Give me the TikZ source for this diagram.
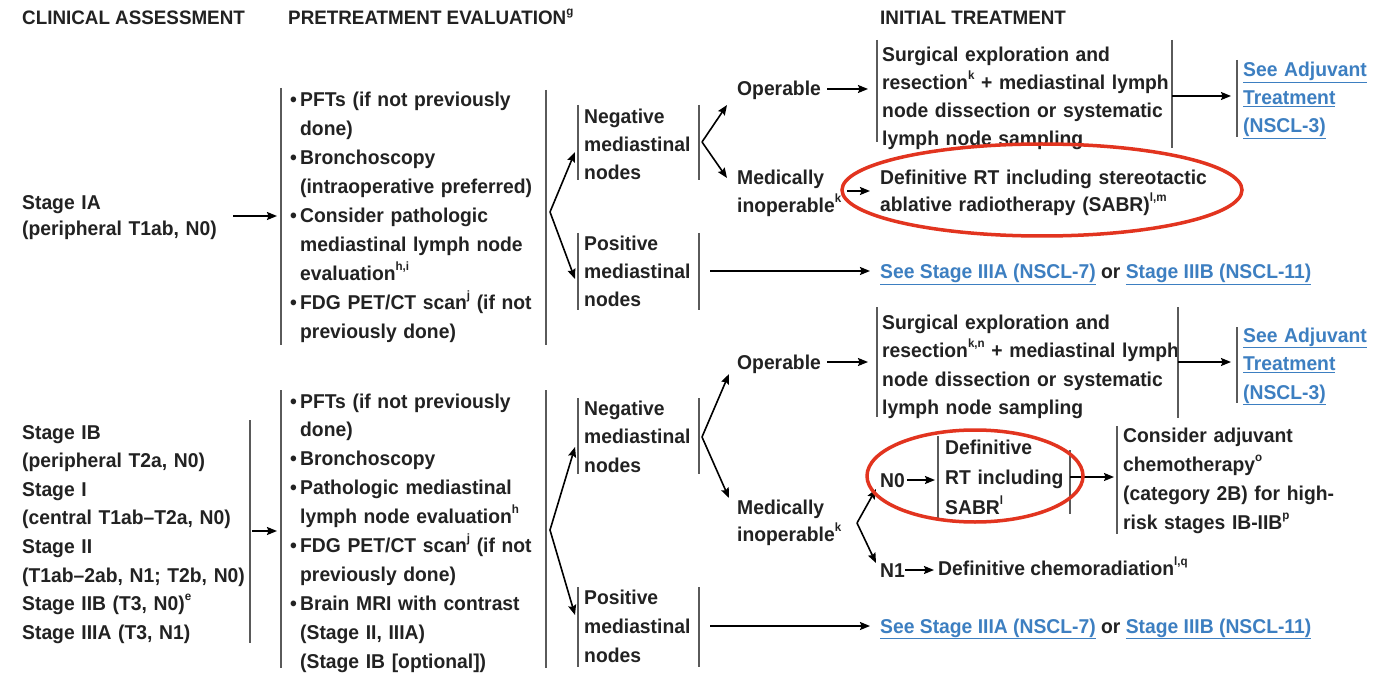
\documentclass[tikz,border=0pt]{standalone}
\usepackage{fontspec}
\setmainfont{Liberation Sans}[FakeStretch=0.965]
\usetikzlibrary{arrows.meta}
\definecolor{txt}{HTML}{222222}
\definecolor{lnk}{HTML}{3D7FC1}
\definecolor{barc}{HTML}{5A5A5A}
\definecolor{circ}{HTML}{E2341F}
\newcommand{\spx}[1]{\raisebox{0.5em}{\fontsize{12}{12}\selectfont #1}}
\newcommand{\lk}[1]{{\color{lnk}\underline{#1}}}
\newcommand{\bl}{\makebox[10pt][l]{•}}
\newcommand{\ind}{\hspace*{10pt}}
\begin{document}
\begin{tikzpicture}[x=1pt,y=-1pt,
  every node/.style={font=\fontsize{20}{28}\selectfont\bfseries, text=txt, inner sep=0pt, anchor=base west},
  blk/.style={text width=#1, align=left},
  hdr/.style={font=\fontsize{19.5}{24}\selectfont\bfseries},
  barl/.style={draw=barc, line width=1.8pt},
  arr/.style={draw=black, line width=1.6pt, -{Stealth[length=10pt,width=8pt,inset=1.5pt]}},
  ring/.style={draw=circ, line width=3.5pt}]
\useasboundingbox (0,0) rectangle (1383,676);
\fill[white] (0,0) rectangle (1383,676);

% headers
\node[hdr] (h1) at (22,25) {CLINICAL ASSESSMENT};
\node[hdr] (h2) at (288,25) {PRETREATMENT EVALUATION\spx{g}};
\node[hdr] (h3) at (880,25) {INITIAL TREATMENT};

% ---------------- top section ----------------
\node[blk=220pt, font=\fontsize{20}{26}\selectfont\bfseries] (s1) at (22,210) {Stage IA\\(peripheral T1ab, N0)};
\coordinate (a1s) at (233,216); \coordinate (a1e) at (277,216);
\draw[arr] (a1s) -- (a1e);

\node[blk=260pt, font=\fontsize{20}{28.9}\selectfont\bfseries] (p1) at (290,107)
 {\bl PFTs (if not previously\\\ind done)\\\bl Bronchoscopy\\\ind(intraoperative preferred)\\\bl Consider pathologic\\\ind mediastinal lymph node\\\ind evaluation\spx{h,i}\\\bl FDG PET/CT scan\spx{j} (if not\\\ind previously done)};
\draw[barl] (281,88) -- (281,345);
\draw[barl] (546,90) -- (546,345);

\coordinate (f1) at (550,212);
\coordinate (n1t) at (575,152); \coordinate (q1t) at (575,279);
\draw[arr] (f1) -- (n1t);
\draw[arr] (f1) -- (q1t);

\node[blk=120pt] (n1) at (584,124) {Negative\\mediastinal\\nodes};
\draw[barl] (578,105) -- (578,180);
\draw[barl] (699,105) -- (699,180);
\node[blk=120pt] (q1) at (584,251) {Positive\\mediastinal\\nodes};
\draw[barl] (578,233) -- (578,310);
\draw[barl] (699,233) -- (699,310);

\coordinate (f2) at (702,142);
\coordinate (o1t) at (727,105); \coordinate (m1t) at (727,178);
\draw[arr] (f2) -- (o1t);
\draw[arr] (f2) -- (m1t);

\node (o1) at (737,96) {Operable};
\coordinate (o1s) at (827,89); \coordinate (o1e) at (868,89);
\draw[arr] (o1s) -- (o1e);
\node[blk=120pt, font=\fontsize{20}{28}\selectfont\bfseries] (m1) at (737,185) {Medically\\inoperable\spx{k}};
\coordinate (m1s) at (847,191); \coordinate (m1e) at (870,191);
\draw[arr] (m1s) -- (m1e);

\node[blk=340pt] (r1) at (882,62) {Surgical exploration and\\resection\spx{k} + mediastinal lymph\\node dissection or systematic\\lymph node sampling};
\draw[barl] (877,40) -- (877,142);
\draw[barl] (1172,40) -- (1172,148);
\coordinate (r1s) at (1172,96); \coordinate (r1e) at (1231,96);
\draw[arr] (r1s) -- (r1e);
\node[blk=140pt, text=lnk] (j1) at (1243,77) {\lk{See Adjuvant}\\\lk{Treatment}\\\lk{(NSCL-3)}};
\draw[barl] (1237,60) -- (1237,137);

\node[blk=380pt, font=\fontsize{20}{27}\selectfont\bfseries] (d1) at (880,185) {Definitive RT including stereotactic\\ablative radiotherapy (SABR)\spx{l,m}};
\draw[ring] (1042,190) ellipse [x radius=200, y radius=46];

\coordinate (q1s) at (710,271); \coordinate (q1e) at (870,271);
\draw[arr] (q1s) -- (q1e);
\node (k1) at (880,279) {\lk{See Stage IIIA (NSCL-7)} or \lk{Stage IIIB (NSCL-11)}};

% ---------------- bottom section ----------------
\node[blk=240pt, font=\fontsize{20}{28.6}\selectfont\bfseries] (s2) at (22,439)
 {Stage IB\\(peripheral T2a, N0)\\Stage I\\(central T1ab--T2a, N0)\\Stage II\\(T1ab--2ab, N1; T2b, N0)\\Stage IIB (T3, N0)\spx{e}\\Stage IIIA (T3, N1)};
\draw[barl] (250,420) -- (250,643);
\coordinate (a2s) at (252,531); \coordinate (a2e) at (277,531);
\draw[arr] (a2s) -- (a2e);

\node[blk=260pt, font=\fontsize{20}{28.9}\selectfont\bfseries] (p2) at (290,408)
 {\bl PFTs (if not previously\\\ind done)\\\bl Bronchoscopy\\\bl Pathologic mediastinal\\\ind lymph node evaluation\spx{h}\\\bl FDG PET/CT scan\spx{j} (if not\\\ind previously done)\\\bl Brain MRI with contrast\\\ind(Stage II, IIIA)\\\ind(Stage IB [optional])};
\draw[barl] (281,390) -- (281,668);
\draw[barl] (546,390) -- (546,668);

\coordinate (f3) at (550,530);
\coordinate (n2t) at (575,447); \coordinate (q2t) at (575,615);
\draw[arr] (f3) -- (n2t);
\draw[arr] (f3) -- (q2t);

\node[blk=120pt, font=\fontsize{20}{28.5}\selectfont\bfseries] (n2) at (584,415) {Negative\\mediastinal\\nodes};
\draw[barl] (578,398) -- (578,474);
\draw[barl] (699,398) -- (699,474);
\node[blk=120pt, font=\fontsize{20}{29}\selectfont\bfseries] (q2) at (584,604) {Positive\\mediastinal\\nodes};
\draw[barl] (578,587) -- (578,667);
\draw[barl] (699,587) -- (699,667);

\coordinate (f4) at (702,437);
\coordinate (o2t) at (729,374); \coordinate (m2t) at (729,498);
\draw[arr] (f4) -- (o2t);
\draw[arr] (f4) -- (m2t);

\node (o2) at (737,369) {Operable};
\coordinate (o2s) at (827,362); \coordinate (o2e) at (868,362);
\draw[arr] (o2s) -- (o2e);

\node[blk=340pt, font=\fontsize{20}{28.5}\selectfont\bfseries] (r2) at (882,329) {Surgical exploration and\\resection\spx{k,n} + mediastinal lymph\\node dissection or systematic\\lymph node sampling};
\draw[barl] (877,307) -- (877,417);
\draw[barl] (1178,307) -- (1178,418);
\coordinate (r2s) at (1178,362); \coordinate (r2e) at (1231,362);
\draw[arr] (r2s) -- (r2e);
\node[blk=140pt, text=lnk, font=\fontsize{20}{28.5}\selectfont\bfseries] (j2) at (1243,342) {\lk{See Adjuvant}\\\lk{Treatment}\\\lk{(NSCL-3)}};
\draw[barl] (1237,327) -- (1237,403);

\node[blk=120pt, font=\fontsize{20}{27}\selectfont\bfseries] (m2) at (737,514) {Medically\\inoperable\spx{k}};
\coordinate (f5) at (857,523);
\coordinate (z0t) at (876,489); \coordinate (z1t) at (876,563);
\draw[arr] (f5) -- (z0t);
\draw[arr] (f5) -- (z1t);

\node (z0) at (880,487) {N0};
\coordinate (z0s) at (907,480); \coordinate (z0e) at (935,480);
\draw[arr] (z0s) -- (z0e);
\node[blk=130pt, font=\fontsize{20}{30}\selectfont\bfseries] (d2) at (945,454) {Definitive\\RT including\\SABR\spx{l}};
\draw[barl] (938,436) -- (938,518);
\draw[barl] (1070,450) -- (1070,514);
\coordinate (d2s) at (1070,477); \coordinate (d2e) at (1114,477);
\draw[arr] (d2s) -- (d2e);
\draw[ring] (975,476) ellipse [x radius=108, y radius=46];

\node[blk=260pt, font=\fontsize{20}{29}\selectfont\bfseries] (c2) at (1123,442) {Consider adjuvant\\chemotherapy\spx{o}\\(category 2B) for high-\\risk stages IB-IIB\spx{p}};
\draw[barl] (1117,426) -- (1117,534);

\node (z1) at (880,577) {N1};
\coordinate (z1s) at (905,570); \coordinate (z1e) at (934,570);
\draw[arr] (z1s) -- (z1e);
\node (ch) at (938,575) {Definitive chemoradiation\spx{l,q}};

\coordinate (q2s) at (710,626); \coordinate (q2e) at (870,626);
\draw[arr] (q2s) -- (q2e);
\node (k2) at (880,633) {\lk{See Stage IIIA (NSCL-7)} or \lk{Stage IIIB (NSCL-11)}};
\end{tikzpicture}
\end{document}
